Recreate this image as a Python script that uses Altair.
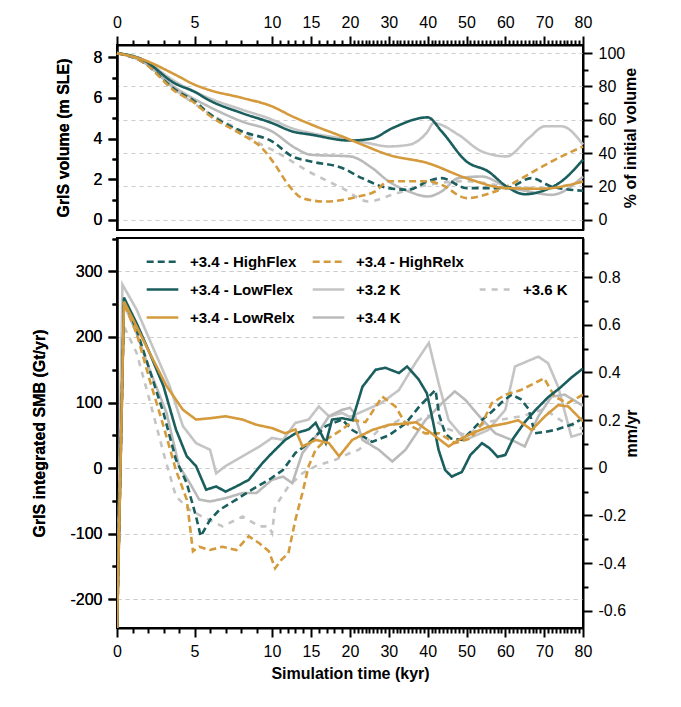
import pandas as pd
import altair as alt

FONT = "Liberation Sans"
TEAL = "#1b5e5e"
GOLD = "#d49a3c"

# --- ice volume (m SLE), pairs of (kyr, value)
vol_lowflex = [(0, 8.2), (1.6, 7.9), (3.76, 6.7), (5, 6.3), (5.9, 5.9), (8.06, 5.25), (10, 4.76), (12.6, 4.35), (15, 4.19), (20, 3.9), (25.7, 4.0), (30.8, 4.5), (40, 5.04), (43.6, 4.35), (50, 2.87), (55.6, 2.38), (60.3, 1.64), (65, 1.26), (69.3, 1.4), (74.5, 1.9), (80, 2.96)]
vol_highflex = [(0, 8.2), (1.6, 7.8), (3.76, 6.4), (5, 5.83), (5.9, 5.25), (8.06, 4.35), (10, 3.86), (12.6, 3.12), (15, 2.87), (19, 2.55), (23.1, 2.05), (29.9, 1.56), (35.1, 1.48), (40, 1.9), (43.6, 2.05), (50, 1.56), (60.3, 1.56), (66.7, 2.05), (71.9, 1.64), (80, 1.43)]
vol_lowrelx = [(0, 8.2), (1.6, 7.9), (3.76, 7.14), (5, 6.65), (5.9, 6.4), (8.06, 6.0), (10, 5.58), (12.6, 5.09), (15.6, 4.6), (19, 4.1), (23.1, 3.7), (29.9, 3.2), (40, 2.79), (50, 2.05), (60.3, 1.56), (69.3, 1.53), (80, 1.89)]
vol_highrelx = [(0, 8.2), (1.6, 7.8), (3.76, 6.32), (5, 5.75), (5.9, 5.17), (8.06, 4.19), (9.35, 3.53), (10.4, 2.71), (12.1, 1.72), (13.9, 1.07), (16.8, 0.9), (22.2, 1.15), (26.5, 1.4), (29.9, 1.9), (40, 1.9), (43.6, 1.72), (50, 1.07), (54.8, 1.23), (60.3, 1.64), (65, 2.13), (71.9, 2.87), (80, 3.61)]
vol_k32 = [(0, 8.2), (1.6, 7.9), (3.76, 6.8), (5.9, 6.0), (8.06, 5.42), (10, 4.93), (12.6, 4.5), (15, 4.27), (19, 4.0), (24.8, 3.77), (29.9, 3.61), (35.1, 3.69), (40, 4.35), (41.5, 4.76), (47.9, 4.19), (53.9, 3.37), (60.3, 3.12), (65.9, 4.0), (70.2, 4.6), (74.5, 4.6), (80, 3.7)]
vol_k34 = [(0, 8.2), (1.6, 7.8), (3.76, 6.5), (5.9, 5.58), (8.06, 4.84), (10, 4.35), (13.0, 3.53), (15, 3.2), (20, 3.12), (25.7, 2.55), (29.9, 1.9), (35.1, 1.4), (40, 1.15), (43.6, 1.4), (47.9, 2.05), (53.9, 2.13), (60.3, 1.64), (65.9, 1.4), (71.9, 1.23), (80, 2.13)]
vol_k36 = [(0, 8.2), (1.6, 7.8), (3.76, 6.4), (5.9, 5.25), (8.06, 4.35), (9.14, 3.78), (10.4, 3.37), (14.7, 2.38), (19, 1.56), (24.8, 0.9), (30.8, 1.23), (40, 1.72), (50, 1.9), (60.3, 1.64), (69.3, 1.56), (80, 1.89)]

# --- integrated SMB (Gt/yr)
smb_lowflex = [(0, -248), (0.45, 260), (1.26, 221), (2.1, 176), (3.0, 125), (3.8, 59), (4.5, 18), (5.1, 3), (5.75, -33), (6.4, -28), (7.0, -36), (7.7, -28), (8.5, -18), (9.4, 8), (10, 23), (11.7, 43), (13, 53), (14.7, 59), (15.6, 69), (16.9, 38), (17.7, 74), (19, 76), (20.6, 73), (23.2, 124), (26.6, 150), (29.1, 153), (32.6, 145), (34.7, 155), (37.7, 135), (39.8, 114), (41.1, 79), (42.8, 28), (44.5, -3), (46.2, -13), (48.8, -6), (51, 20), (54, 38), (56, 30), (58, 17), (60, 20), (62, 45), (65, 70), (68, 90), (71, 108), (74, 122), (77, 138), (80, 152)]
smb_highflex = [(0, -248), (0.45, 257), (1.26, 211), (2.1, 150), (3.0, 84), (3.8, 13), (4.5, -23), (5.1, -74), (5.4, -104), (6.0, -79), (6.6, -64), (7.7, -48), (8.7, -33), (9.8, -18), (11.4, -3), (13, 23), (14.7, 38), (16.9, 64), (19, 74), (20.6, 58), (25.7, 40), (30, 50), (34.3, 68), (38, 95), (42, 119), (43, 80), (44.5, 53), (46, 45), (48.8, 43), (51, 55), (53.9, 73), (56.5, 86), (59, 100), (61.6, 112), (64, 105), (66, 90), (67.6, 53), (70, 55), (72.7, 58), (77, 66), (80, 76)]
smb_lowrelx = [(0, -248), (0.45, 254), (1.26, 216), (2.1, 176), (3.2, 125), (4.25, 89), (5.1, 74), (6, 76), (7, 79), (8.1, 74), (9, 66), (10, 61), (11.7, 53), (13, 59), (13.9, 33), (15.6, 43), (17.3, 38), (18.6, 18), (20.6, 43), (25.7, 58), (30, 66), (34.3, 68), (37, 70), (41, 53), (45.4, 33), (48, 43), (51.4, 53), (55.6, 63), (60, 68), (63.3, 73), (66.8, 58), (70.2, 79), (73.6, 96), (76.2, 94), (80, 71)]
smb_highrelx = [(0, -248), (0.45, 252), (1.26, 206), (2.1, 135), (3, 64), (3.8, -3), (4.5, -48), (4.9, -127), (5.3, -120), (6, -125), (6.8, -120), (7.7, -125), (8.5, -104), (9.2, -115), (9.8, -127), (10.4, -153), (11.2, -140), (12.1, -130), (13, -79), (13.9, -38), (14.7, 3), (15.6, 28), (16.9, 43), (19, 59), (21, 73), (24, 70), (28.3, 109), (31.7, 94), (34.3, 68), (39.4, 53), (43, 53), (47, 38), (51, 45), (54, 68), (56.5, 99), (60, 112), (64, 119), (70, 137), (72.7, 109), (76, 99), (80, 112)]
smb_k32 = [(0, -248), (0.35, 280), (1.26, 242), (2.1, 196), (3.4, 125), (4.25, 64), (5.1, 38), (6, 28), (6.4, -8), (7, 3), (8.1, 18), (9.2, 33), (10, 46), (11.4, 43), (13, 69), (14.7, 74), (16, 94), (17.3, 79), (19, 84), (20, 78), (28, 99), (32.6, 119), (36.8, 160), (40.3, 191), (42.8, 130), (45.4, 73), (49.7, 43), (55.6, 58), (60, 89), (62.5, 155), (68.5, 170), (71, 160), (73.6, 124), (77, 48), (80, 53)]
smb_k34 = [(0, -248), (0.45, 250), (1.26, 206), (2.1, 150), (3.2, 84), (4, 3), (4.7, -23), (5.3, -48), (6, -51), (7, -46), (8.1, -38), (9, -38), (10, -18), (11.4, -13), (12.6, -23), (13.9, 23), (15.6, 48), (17.3, 79), (19, 89), (20, 92), (21, 85), (23.2, 43), (27.4, 28), (30.9, 10), (34.3, 28), (39.4, 73), (43.7, 99), (47, 117), (49.7, 104), (53, 81), (57.4, 53), (61.6, 43), (65, 33), (68.5, 79), (71.9, 109), (75.3, 112), (80, 95)]
smb_k36 = [(0, -248), (0.35, 221), (1.26, 176), (2.1, 104), (3, 23), (3.8, -43), (4.7, -64), (5.5, -74), (6.8, -89), (8.1, -74), (9.2, -89), (9.8, -89), (10, -99), (10.4, -59), (12.1, -28), (13.9, -8), (15.6, 3), (18.2, 13), (20, 23), (22.3, 28), (27.4, 58), (32.6, 73), (36, 68), (40, 80), (45, 60), (50, 50), (55, 70), (60, 75), (65, 80), (70, 90), (75, 70), (80, 60)]

# legend entries, filled column by column (" " is the empty slot)
names = ["+3.4 - HighFlex", "+3.4 - LowFlex", "+3.4 - LowRelx", "+3.4 - HighRelx", "+3.2 K", "+3.4 K", " ", "+3.6 K"]
colors = [TEAL, TEAL, GOLD, GOLD, "#c4c4c4", "#bababa", "#ffffff00", "#c4c4c4"]
dashes = [[7, 4], [1, 0], [1, 0], [7, 4], [1, 0], [1, 0], [1, 0], [6, 6]]
widths = [2.6, 2.6, 2.6, 2.6, 1.1, 2.8, 1, 1.1]

vol = {"+3.4 - HighFlex": vol_highflex, "+3.4 - HighRelx": vol_highrelx, "+3.4 - LowFlex": vol_lowflex,
       "+3.2 K": vol_k32, "+3.6 K": vol_k36, "+3.4 - LowRelx": vol_lowrelx, "+3.4 K": vol_k34}
smb = {"+3.4 - HighFlex": smb_highflex, "+3.4 - HighRelx": smb_highrelx, "+3.4 - LowFlex": smb_lowflex,
       "+3.2 K": smb_k32, "+3.6 K": smb_k36, "+3.4 - LowRelx": smb_lowrelx, "+3.4 K": smb_k34}
grays = ["+3.2 K", "+3.6 K", "+3.4 K"]


def to_df(d):
    rows = [{"run": k, "t": t, "v": v} for k, pts in d.items() for t, v in pts]
    return pd.DataFrame(rows)


vol_df = to_df(vol)
smb_df = to_df(smb)

W, H1, H2 = 466, 185, 390
x_scale = alt.Scale(domain=[0, 10, 20, 80], range=[0, 155, 233, 466], clamp=True)
is_major = "indexof([0,5,10,15,20,30,40,50,60,70,80], datum.value) >= 0"


def x_axis(orient, title=None):
    return alt.Axis(orient=orient, values=list(range(0, 81)), grid=False, title=title,
                    labelExpr=f"{is_major} ? datum.label : ''",
                    tickSize={"expr": f"{is_major} ? 9 : 5"},
                    labelFlush=False, labelOverlap=False, labelPadding=6, titlePadding=6)


def yaxis(orient, values, major, title, grid, fmt):
    expr = "indexof(" + str(major) + ", datum.value) >= 0"
    return alt.Axis(orient=orient, values=values, title=title, format=fmt,
                    labelExpr=f"{expr} ? replace(datum.label, '\u2212', '-') : ''",
                    tickSize={"expr": f"{expr} ? 9 : 5"}, grid=grid,
                    gridOpacity={"expr": f"{expr} ? 1 : 0"},
                    gridDash=[4, 4], gridColor="#cccccc", gridWidth=1,
                    labelPadding=6, titlePadding=22 if orient == "left" else 14,
                    titleAngle=270)


def enc(legend):
    return dict(
        color=alt.Color("run:N", scale=alt.Scale(domain=names, range=colors), legend=legend),
        strokeDash=alt.StrokeDash("run:N", scale=alt.Scale(domain=names, range=dashes), legend=legend),
        strokeWidth=alt.StrokeWidth("run:N", scale=alt.Scale(domain=names, range=widths), legend=legend),
        detail="run:N",
    )


gray_only = alt.FieldOneOfPredicate(field="run", oneOf=grays)

# ---- top panel
vol_y = alt.Y("v:Q", scale=alt.Scale(domain=[-0.5, 8.6], nice=False),
              axis=yaxis("left", [i * 0.5 for i in range(0, 17)], [0, 2, 4, 6, 8], "GrIS volume (m SLE)", False, "d"))
vol_x = alt.X("t:Q", scale=x_scale, axis=x_axis("top"))
top_gray = alt.Chart(vol_df).transform_filter(gray_only).mark_line(
    interpolate="monotone").encode(x=vol_x, y=vol_y, **enc(None))
top_col = alt.Chart(vol_df).transform_filter(~gray_only).mark_line(
    interpolate="monotone").encode(x=vol_x, y=vol_y, **enc(None))
pct_df = pd.DataFrame({"p": [-6.1, 104.8]})
top_right = alt.Chart(pct_df).mark_point(opacity=0).encode(
    x=alt.value(0),
    y=alt.Y("p:Q", scale=alt.Scale(domain=[-6.1, 104.8], nice=False),
            axis=yaxis("right", list(range(0, 101, 10)), [0, 20, 40, 60, 80, 100], "% of initial volume", True, "d")))
top = alt.layer(top_right, top_gray, top_col).resolve_scale(y="independent").properties(width=W, height=H1)

# ---- bottom panel
smb_y = alt.Y("v:Q", scale=alt.Scale(domain=[-244, 351], nice=False),
              axis=yaxis("left", list(range(-200, 351, 50)), [-200, -100, 0, 100, 200, 300],
                         "GrIS integrated SMB (Gt/yr)", True, "d"))
smb_x = alt.X("t:Q", scale=x_scale, axis=x_axis("bottom", "Simulation time (kyr)"))
leg = alt.Legend(orient="none", legendX=28, legendY=6, columns=3, title=None, symbolType="stroke",
                 symbolSize=1000, labelFont=FONT, labelFontSize=15, labelFontWeight="bold",
                 rowPadding=2, columnPadding=10, labelOffset=10, gridAlign="each")
bot_gray = alt.Chart(smb_df).transform_filter(gray_only).mark_line(
    clip=True).encode(x=smb_x, y=smb_y, **enc(leg))
bot_col = alt.Chart(smb_df).transform_filter(~gray_only).mark_line(
    clip=True).encode(x=smb_x, y=smb_y, **enc(leg))
mm_df = pd.DataFrame({"m": [-0.672, 0.964]})
bot_right = alt.Chart(mm_df).mark_point(opacity=0).encode(
    x=alt.value(0),
    y=alt.Y("m:Q", scale=alt.Scale(domain=[-0.672, 0.964], nice=False),
            axis=yaxis("right", [round(-0.6 + 0.1 * i, 1) for i in range(0, 16)],
                       [-0.6, -0.4, -0.2, 0.0, 0.2, 0.4, 0.6, 0.8], "mm/yr", False, "~g")))
bottom = alt.layer(bot_gray, bot_col, bot_right).resolve_scale(y="independent").properties(width=W, height=H2)

chart = alt.vconcat(top, bottom, spacing=0).resolve_scale(
    color="independent", strokeDash="independent", strokeWidth="independent", x="independent"
).configure_view(stroke="black", strokeWidth=2).configure_axis(
    labelFont=FONT, titleFont=FONT, labelFontSize=16, titleFontSize=16, titleFontWeight="bold",
    labelColor="black", titleColor="black", domainColor="black", tickColor="black",
    domainWidth=2, tickWidth=2
).properties(background="white", padding={"left": 22, "top": 5, "right": 5, "bottom": 5})

chart.save("out.html", embed_options={"renderer": "svg", "actions": False})
